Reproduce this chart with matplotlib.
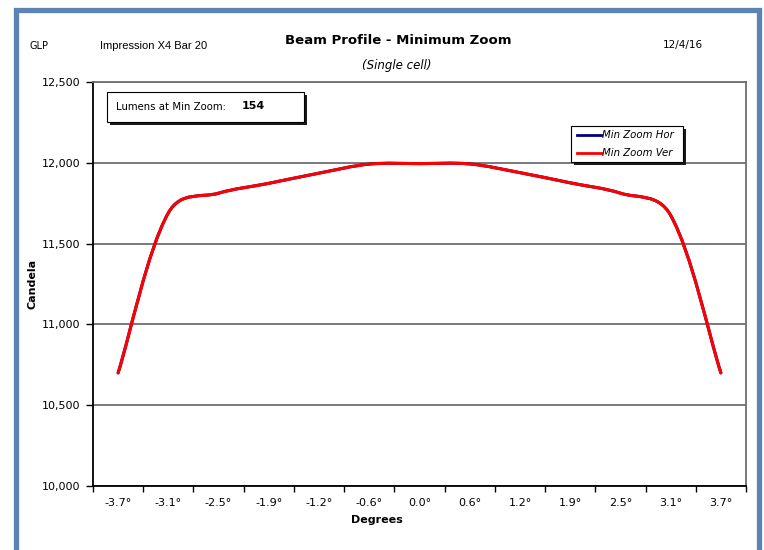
import matplotlib.pyplot as plt
from matplotlib.path import Path
from matplotlib.patches import PathPatch, Rectangle
from matplotlib.lines import Line2D
import numpy as np

# data
degrees = ["-3.7°", "-3.1°", "-2.5°", "-1.9°", "-1.2°", "-0.6°", "0.0°",
           "0.6°", "1.2°", "1.9°", "2.5°", "3.1°", "3.7°"]
min_zoom_hor = [10700, 11690, 11812, 11873, 11936, 11992, 11995,
                11993, 11939, 11876, 11812, 11675, 10700]
min_zoom_ver = [10700, 11690, 11812, 11873, 11936, 11992, 11995,
                11993, 11939, 11876, 11812, 11675, 10700]
lumens = 154

W, H = 764, 550
fig = plt.figure(figsize=(W / 100, H / 100), dpi=100)
fig.patch.set_facecolor("white")

# outer blue frame (bottom edge runs off the picture)
fig.add_artist(Rectangle((16 / W, -0.05), (759 - 16) / W, 1.05 - 10 / H,
                         transform=fig.transFigure, fill=False,
                         edgecolor="#5B83B3", linewidth=3.8))

ax_l, ax_r, ax_t, ax_b = 93, 746, 82, 486
ax = fig.add_axes([ax_l / W, 1 - ax_b / H, (ax_r - ax_l) / W, (ax_b - ax_t) / H])

ymin, ymax = 10000, 12500
px_x = (ax_r - ax_l) / len(degrees)
px_y = (ax_b - ax_t) / (ymax - ymin)


def smooth_path(xs, ys, w=0.5):
    # smoothed line like Excel's: bezier handles partly scaled by chord length
    P = np.column_stack([np.asarray(xs, float) * px_x, np.asarray(ys, float) * px_y])
    n = len(P)
    d = np.hypot(*np.diff(P, axis=0).T)
    outs, ins = [], []
    for i in range(n):
        t = P[min(i + 1, n - 1)] - P[max(i - 1, 0)]
        dp = d[i - 1] if i > 0 else 0.0
        dn = d[i] if i < n - 1 else 0.0
        fo = (1 - w) / 6 + w * dn / (dp + dn) / 3
        fi = (1 - w) / 6 + w * dp / (dp + dn) / 3
        if i == 0:
            fi = 0
        if i == n - 1:
            fo = 0
        outs.append(P[i] + t * fo)
        ins.append(P[i] - t * fi)
    verts = [P[0]]
    codes = [Path.MOVETO]
    for i in range(n - 1):
        verts += [outs[i], ins[i + 1], P[i + 1]]
        codes += [Path.CURVE4] * 3
    verts = np.array(verts) / [px_x, px_y]
    return Path(verts, codes)


x = np.arange(len(degrees))
for vals, col in [(min_zoom_hor, "#000080"), (min_zoom_ver, "#FF0000")]:
    ax.add_patch(PathPatch(smooth_path(x, vals), fill=False, edgecolor=col,
                           linewidth=2.2, capstyle="round", zorder=3))

ax.set_xlim(-0.5, len(degrees) - 0.5)
ax.set_ylim(ymin, ymax)
ax.set_yticks(np.arange(ymin, ymax + 1, 500))
ax.set_yticklabels([f"{v:,}" for v in range(ymin, ymax + 1, 500)])
ax.set_xticks(x)
ax.set_xticklabels(degrees)
ax.set_xticks(np.arange(-0.5, len(degrees)), minor=True)
ax.tick_params(axis="x", which="major", length=0, pad=9, labelsize=8)
ax.tick_params(axis="x", which="minor", length=4, width=1, direction="out")
ax.tick_params(axis="y", length=5, width=1, pad=4, labelsize=8)
ax.grid(axis="y", color="#6E6E6E", linewidth=1.3)
ax.set_axisbelow(True)
for s in ["top", "right"]:
    ax.spines[s].set_color("#6E6E6E")
    ax.spines[s].set_linewidth(1.3)
for s in ["left", "bottom"]:
    ax.spines[s].set_color("black")
    ax.spines[s].set_linewidth(1.3)

ax.set_ylabel("Candela", fontsize=8, fontweight="bold")
ax.yaxis.set_label_coords((37 - ax_l) / (ax_r - ax_l), 0.5)
ax.set_xlabel("Degrees", fontsize=8, fontweight="bold")
ax.xaxis.set_label_coords((377 - ax_l) / (ax_r - ax_l), -(515 - ax_b) / (ax_b - ax_t))

# header texts
fig.text(30 / W, 1 - 46 / H, "GLP", fontsize=7, va="center")
fig.text(100 / W, 1 - 46 / H, "Impression X4 Bar 20", fontsize=8, va="center",
         family="Liberation Sans")
fig.text(398 / W, 1 - 40 / H, "Beam Profile - Minimum Zoom", fontsize=9.5,
         fontweight="bold", ha="center", va="center")
fig.text(397 / W, 1 - 66 / H, "(Single cell)", fontsize=8.5, style="italic",
         ha="center", va="center")
fig.text(683 / W, 1 - 45 / H, "12/4/16", fontsize=7.5, ha="center", va="center")


def shadow_box(x0, y0, x1, y1):
    fig.add_artist(Rectangle((x0 / W + 3 / W, 1 - (y1 + 3) / H), (x1 - x0) / W,
                             (y1 - y0) / H, transform=fig.transFigure,
                             facecolor="#1A1A1A", edgecolor="none", zorder=5))
    fig.add_artist(Rectangle((x0 / W, 1 - y1 / H), (x1 - x0) / W, (y1 - y0) / H,
                             transform=fig.transFigure, facecolor="white",
                             edgecolor="black", linewidth=0.8, zorder=6))


# lumens box
shadow_box(107, 92, 304, 122)
fig.text(116 / W, 1 - 107 / H, "Lumens at Min Zoom:", fontsize=7.3, va="center", zorder=7)
fig.text(242 / W, 1 - 106 / H, str(lumens), fontsize=8, fontweight="bold",
         va="center", zorder=7)

# legend box
shadow_box(571, 126, 683, 162)
for yy, col, lab in [(135, "#000080", "Min Zoom Hor"), (153, "#FF0000", "Min Zoom Ver")]:
    fig.add_artist(Line2D([577 / W, 601 / W], [1 - yy / H, 1 - yy / H],
                          transform=fig.transFigure, color=col, linewidth=2, zorder=7))
    fig.text(602 / W, 1 - yy / H, lab, fontsize=7.3, style="italic", va="center", zorder=7)

fig.savefig("out.png", dpi=100)
